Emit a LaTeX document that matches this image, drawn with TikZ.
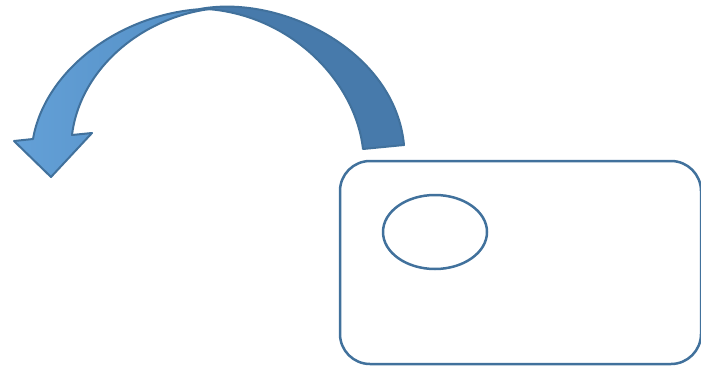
\documentclass[tikz,border=0pt]{standalone}
\usetikzlibrary{shapes.geometric}
\definecolor{edgeblue}{HTML}{41719C}
\definecolor{backblue}{HTML}{477AAB}
\definecolor{frontblue}{HTML}{5B9BD5}
\begin{document}
\begin{tikzpicture}[x=1pt, y=-1pt, line join=round,
    outline/.style={draw=edgeblue, line width=2.5pt},
    band/.style={draw=edgeblue, line width=2pt}]
                \useasboundingbox (0,0) rectangle (701,369);
                \node[outline, rounded corners=30pt, minimum width=361pt, minimum height=203pt, inner sep=0pt] (Card) at (520.5,262.5) {};
                \node[outline, ellipse, minimum width=104pt, minimum height=74pt, inner sep=0pt] (Spot) at (435,232) {};

                \fill[band, fill=backblue] (363,149) .. controls (355,80) and (290,15) .. (207,9)
                    -- (200,9) .. controls (280,-6) and (395,50) .. (404,145) -- cycle;
                \fill[band, left color=frontblue!95!white, right color=frontblue!92!black]
                    (202,9) .. controls (120,14) and (45,70) .. (33,139)
                    -- (14,141) -- (51,177) -- (92,133) -- (72,135)
                    .. controls (80,70) and (140,18) .. (210,9) -- cycle;
            \end{tikzpicture}
\end{document}
